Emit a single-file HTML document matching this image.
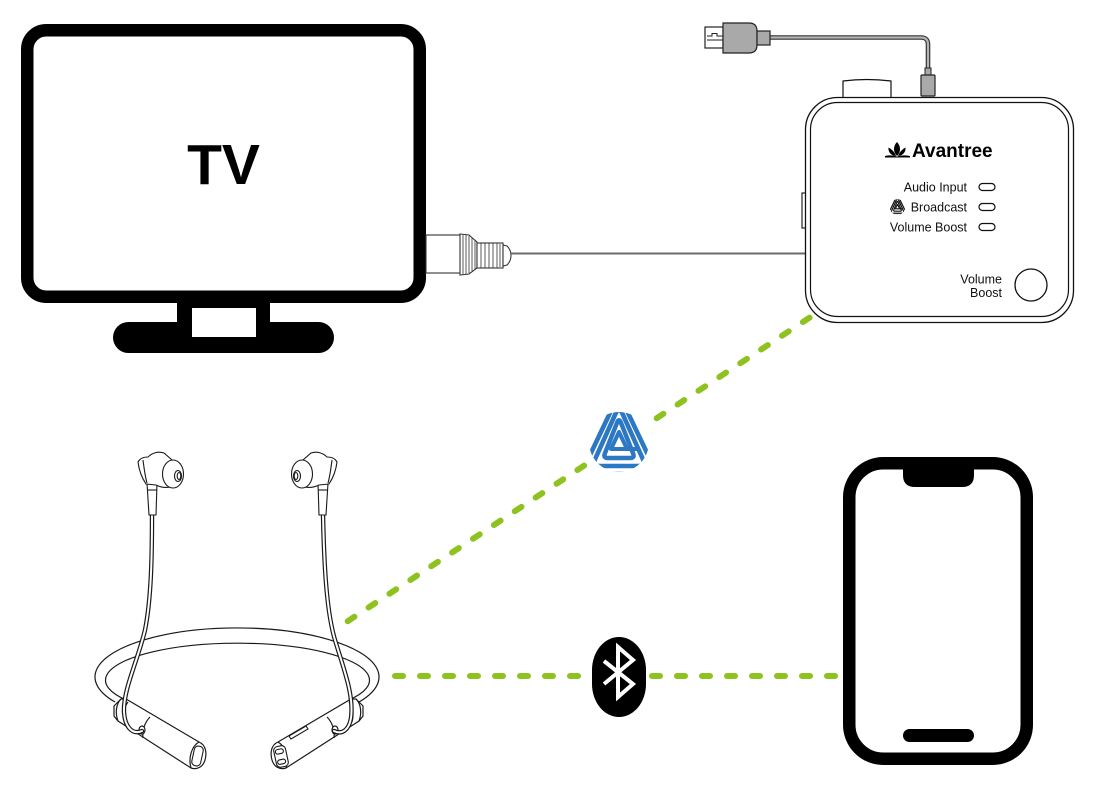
<!DOCTYPE html>
<html><head><meta charset="utf-8"><style>
html,body{margin:0;padding:0;background:#fff;}
svg{display:block;font-family:"Liberation Sans",sans-serif;}
</style></head><body>
<svg width="1097" height="785" viewBox="0 0 1097 785" xmlns="http://www.w3.org/2000/svg" xmlns:xlink="http://www.w3.org/1999/xlink">
<defs>
 <clipPath id="acp" clipPathUnits="userSpaceOnUse"><circle cx="619" cy="442" r="30"/></clipPath>
 <g id="aura">
  <g clip-path="url(#acp)" fill="none" stroke="currentColor" stroke-width="4.6" stroke-linejoin="round">
   <path d="M614.3,403.9 Q619,394 623.7,403.9 L652.3,464.1 Q657,474 646,474 L592,474 Q581,474 585.7,464.1 Z"/>
   <path d="M615.7,413.3 Q619,406 622.3,413.3 L642.7,458.7 Q646,466 638,466 L600,466 Q592,466 595.3,458.7 Z"/>
  </g>
  <path d="M617.1,422.6 Q619,418 620.9,422.6 L633.1,453.4 Q635,458 630,458 L608,458 Q603,458 604.9,453.4 Z" fill="none" stroke="currentColor" stroke-width="4.5" stroke-linejoin="round"/>
  <path d="M627,449 L619,432 L611,449 L637,449" fill="none" stroke="currentColor" stroke-width="4" stroke-linejoin="round" stroke-linecap="round"/>
 </g>
</defs>

<!-- TV -->
<rect x="177" y="300" width="93" height="24" fill="#000"/>
<rect x="113" y="322" width="221" height="31" rx="15.5" fill="#000"/>
<rect x="192" y="308" width="64" height="29" fill="#fff"/>
<rect x="27.25" y="30.25" width="392.5" height="266.5" rx="19" fill="#fff" stroke="#000" stroke-width="12.5"/>
<text x="223.5" y="184" font-size="57" font-weight="bold" text-anchor="middle" fill="#000">TV</text>

<!-- TV plug -->
<g stroke="#333" stroke-width="1.1" fill="#fff">
 <rect x="426" y="235" width="35" height="38"/>
 <path d="M460,234 L469,235 L477,242 L477,268 L469,274 L460,275 Z"/>
 <path d="M463,235 L463,274 M466,235 L466,274 M469,236 L469,273 M472,238 L472,271 M475,240 L475,269" fill="none" stroke-width="0.8"/>
 <rect x="477" y="243" width="26" height="25"/>
 <path d="M481,243 L481,268 M485,243 L485,268 M489,243 L489,268 M493,243 L493,268 M497,243 L497,268 M500,244 L500,267" fill="none" stroke-width="0.8"/>
 <path d="M503,245 L507,246 Q511,250 511,255.5 Q511,261 507,265 L503,266 Z"/>
</g>
<line x1="511" y1="253.5" x2="806" y2="253.5" stroke="#6b6b6b" stroke-width="2"/>

<!-- USB cable -->
<path d="M770,37.5 L921,37.5 Q928,37.5 928,44.5 L928,69" fill="none" stroke="#333" stroke-width="4.6"/>
<path d="M770,37.5 L921,37.5 Q928,37.5 928,44.5 L928,69" fill="none" stroke="#b5b5b5" stroke-width="2.2"/>
<rect x="705" y="27" width="18" height="21" fill="#fff" stroke="#222" stroke-width="1.2"/>
<path d="M707,36 L712,36 L712,33.5 L717,33.5 L717,36 L723,36 M707,40 L723,40" fill="none" stroke="#222" stroke-width="1"/>
<path d="M723,23 L749,23 Q757,23 757,31 L757,45 Q757,53 749,53 L723,53 Z" fill="#a9a9a9" stroke="#222" stroke-width="1.2"/>
<rect x="757" y="31" width="13" height="14" fill="#a9a9a9" stroke="#222" stroke-width="1.2"/>
<rect x="925" y="68" width="6" height="7" fill="#a9a9a9" stroke="#222" stroke-width="1"/>
<rect x="921" y="75" width="14" height="21" rx="1" fill="#a9a9a9" stroke="#222" stroke-width="1.2"/>

<!-- Device -->
<path d="M843,97 L843,81 Q867,78 891,81 L891,97" fill="#fff" stroke="#111" stroke-width="1.2"/>
<rect x="802" y="193" width="4" height="35" fill="#fff" stroke="#111" stroke-width="1.1"/>
<rect x="805.5" y="97.5" width="268" height="225" rx="32" fill="#fff" stroke="#111" stroke-width="1.3"/>
<rect x="810.5" y="102.5" width="258" height="214" rx="27" fill="none" stroke="#111" stroke-width="1.2"/>
<g fill="#000">
 <path d="M897,142 C893,146 893,152 897,156 C901,152 901,146 897,142 Z"/>
 <path d="M888.5,147.5 C888,152 891,155.5 896,156 C894.5,152 892,149.5 888.5,147.5 Z"/>
 <path d="M905.5,147.5 C906,152 903,155.5 898,156 C899.5,152 902,149.5 905.5,147.5 Z"/>
 <path d="M885,156 Q891,154.5 897,156.5 Q903,154.5 910,156 L910,157.5 L885,157.5 Z"/>
</g>
<text x="912" y="157" font-size="19" font-weight="bold" fill="#000">Avantree</text>
<g font-size="12.5" fill="#111" text-anchor="end">
 <text x="967" y="191.5">Audio Input</text>
 <text x="967" y="211.5">Broadcast</text>
 <text x="967" y="231.5">Volume Boost</text>
 <text x="1002" y="283.5">Volume</text>
 <text x="1002" y="297">Boost</text>
</g>
<use href="#aura" xlink:href="#aura" color="#111" transform="translate(897.5,207) scale(0.26) translate(-619,-442)"/>
<g fill="#fff" stroke="#111" stroke-width="1.2">
 <rect x="979" y="183.5" width="16" height="7" rx="3.5"/>
 <rect x="979" y="203.5" width="16" height="7" rx="3.5"/>
 <rect x="979" y="223.5" width="16" height="7" rx="3.5"/>
 <circle cx="1031" cy="285" r="16" stroke-width="1.3"/>
</g>

<!-- Dashed links -->
<g stroke="#8dc21f" stroke-width="6" stroke-linecap="round" stroke-dasharray="8 17" fill="none">
 <path d="M347.7,621.2 L584.1,465.6"/>
 <path d="M656.7,418.2 L809.6,317.6"/>
 <path d="M395,676 L578,676"/>
 <path d="M652,676 L836,676"/>
</g>

<use href="#aura" xlink:href="#aura" color="#2d78c3"/>

<rect x="592" y="637" width="54" height="80" rx="27" ry="33" fill="#000"/>
<path d="M604,661 L633,684 L618,697 L618,647 L633,660 L604,684" fill="none" stroke="#fff" stroke-width="4" stroke-linejoin="miter"/>

<!-- Phone -->
<rect x="849.25" y="463.25" width="177.5" height="295.5" rx="34" fill="#fff" stroke="#000" stroke-width="12.5"/>
<path d="M903,468 L974,468 L974,475 Q974,487 962,487 L915,487 Q903,487 903,475 Z" fill="#000"/>
<rect x="903" y="729" width="71" height="13" rx="6.5" fill="#000"/>

<!-- Headphones -->
<g fill="none" stroke="#1a1a1a" stroke-width="1.2">
 <path d="M115,702 A142,49 0 1,1 359,702"/>
 <path d="M126,700 A132,37 0 1,1 349,700"/>
</g>
<g stroke="#1a1a1a" stroke-width="1.2" fill="#fff">
 <path d="M114,706 L121,699 L126,699 L199,742 C206,745 207,753 205,760 C203,767 197,770 191,768 L118,721 L114,716 Z"/>
 <path d="M121,699 C116,704 115,713 118,721" fill="none"/>
 <path d="M128,702 C124,707 123,714 125,722" fill="none"/>
 <path d="M199,742 C192,746 188,757 191,768" fill="none"/>
 <path d="M150,717 C145,722 142,730 143,738" fill="none"/>
 <ellipse cx="142" cy="730" rx="3" ry="4" fill="#fff"/>
</g>
<g transform="translate(477,0) scale(-1,1)" stroke="#1a1a1a" stroke-width="1.2" fill="#fff">
 <path d="M114,706 L121,699 L126,699 L199,742 C206,745 207,753 205,760 C203,767 197,770 191,768 L118,721 L114,716 Z"/>
 <path d="M121,699 C116,704 115,713 118,721" fill="none"/>
 <path d="M128,702 C124,707 123,714 125,722" fill="none"/>
 <path d="M199,742 C192,746 188,757 191,768" fill="none"/>
 <path d="M150,717 C145,722 142,730 143,738" fill="none"/>
 <ellipse cx="142" cy="730" rx="3" ry="4" fill="#fff"/>
</g>
<g stroke="#1a1a1a" stroke-width="1.1" fill="#fff">
 <rect x="193" y="746" width="9" height="20" rx="4" transform="rotate(12 197.5 756)"/>
 <rect x="275" y="746" width="12" height="21" rx="4" transform="rotate(-12 281 756.5)"/>
 <rect x="276.5" y="749" width="8" height="4.5" rx="2.2" transform="rotate(-12 281 756.5)"/>
 <rect x="276.5" y="759.5" width="8" height="4.5" rx="2.2" transform="rotate(-12 281 756.5)"/>
 <path d="M289,736 L306,726 L308,729 L291,739 Z"/>
</g>
<g fill="none" stroke-linecap="round">
 <path d="M152,515 C152,560 151,600 145,630 C138,660 123,690 124,712 C125,728 133,735 142,731" stroke="#1a1a1a" stroke-width="4.4"/>
 <path d="M152,515 C152,560 151,600 145,630 C138,660 123,690 124,712 C125,728 133,735 142,731" stroke="#fff" stroke-width="2"/>
 <path d="M323,515 C324,560 326,610 335,640 C344,670 354,695 351,718 C349,730 342,735 334,731" stroke="#1a1a1a" stroke-width="4.4"/>
 <path d="M323,515 C324,560 326,610 335,640 C344,670 354,695 351,718 C349,730 342,735 334,731" stroke="#fff" stroke-width="2"/>
</g>
<g stroke="#1a1a1a" stroke-width="1.1" fill="#fff">
 <path d="M147,483 L157,483 L156,515 L149,515 Z"/>
 <path d="M147,490 L157,490" fill="none"/>
 <path d="M138,462 C140,458 144,457 148,457 C152,453 158,451 164,453 L172,460 L170,487 C165,488 160,487 156,485 L146,484 C142,478 139,470 138,462 Z"/>
 <path d="M143,460 C144,468 145,476 147,483" fill="none"/>
 <ellipse cx="173" cy="474" rx="10.5" ry="14"/>
 <ellipse cx="178" cy="476" rx="3.5" ry="5.5"/>
 <ellipse cx="179" cy="476" rx="1.8" ry="3.5"/>
</g>
<g transform="translate(475,0) scale(-1,1)" stroke="#1a1a1a" stroke-width="1.1" fill="#fff">
 <path d="M147,483 L157,483 L156,515 L149,515 Z"/>
 <path d="M147,490 L157,490" fill="none"/>
 <path d="M138,462 C140,458 144,457 148,457 C152,453 158,451 164,453 L172,460 L170,487 C165,488 160,487 156,485 L146,484 C142,478 139,470 138,462 Z"/>
 <path d="M143,460 C144,468 145,476 147,483" fill="none"/>
 <ellipse cx="173" cy="474" rx="10.5" ry="14"/>
 <ellipse cx="178" cy="476" rx="3.5" ry="5.5"/>
 <ellipse cx="179" cy="476" rx="1.8" ry="3.5"/>
</g>
</svg>
</body></html>
